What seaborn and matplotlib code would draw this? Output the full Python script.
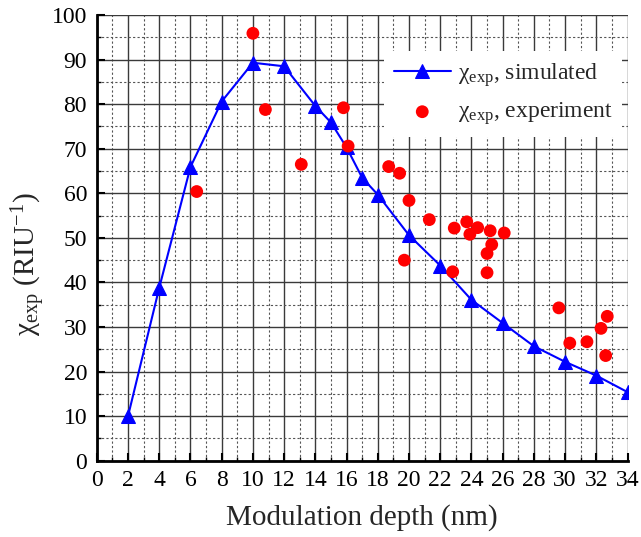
import matplotlib
matplotlib.use('Agg')
import matplotlib.pyplot as plt
from matplotlib.ticker import MultipleLocator
import seaborn as sns
import pandas as pd

# simulated curve
sim_depth = [2, 4, 6, 8, 10, 12, 14, 15, 16, 17, 18, 20, 22, 24, 26, 28, 30, 32, 34]
sim_chi = [10, 38.8, 65.9, 80.6, 89.3, 88.5, 79.6, 75.9, 70.3, 63.5, 59.7, 50.6,
           43.8, 36.1, 30.9, 25.7, 22.2, 19.1, 15.4]

# experimental points
exp_depth = [6.4, 10.0, 10.8, 13.1, 15.8, 16.1, 18.7, 19.4, 20.0, 19.7, 21.3, 22.9,
             22.8, 23.7, 23.9, 24.4, 25.2, 25.3, 25.0, 25.0, 26.1, 29.6, 30.3,
             31.4, 32.3, 32.6, 32.7]
exp_chi = [60.4, 95.9, 78.8, 66.5, 79.2, 70.6, 66.0, 64.5, 58.4, 45.0, 54.1, 52.2,
           42.4, 53.6, 50.8, 52.3, 51.6, 48.5, 46.5, 42.2, 51.1, 34.3, 26.4,
           26.7, 29.7, 23.6, 32.4]

sim = pd.DataFrame({'depth': sim_depth, 'chi': sim_chi})
exp = pd.DataFrame({'depth': exp_depth, 'chi': exp_chi})

sns.set_style('ticks')
plt.rcParams['font.family'] = ['Liberation Serif', 'DejaVu Serif']
# mathtext in the same Times-like face, so chi stays upright
plt.rcParams['mathtext.fontset'] = 'custom'
plt.rcParams['mathtext.rm'] = 'Liberation Serif'
plt.rcParams['mathtext.it'] = 'Liberation Serif'
plt.rcParams['mathtext.bf'] = 'Liberation Serif:bold'

fig = plt.figure(figsize=(6.41, 5.37), dpi=100)
ax = fig.add_axes([0.151, 0.142, 0.828, 0.830])

ax.set_axisbelow(True)
ax.xaxis.set_major_locator(MultipleLocator(2))
ax.xaxis.set_minor_locator(MultipleLocator(1))
ax.yaxis.set_major_locator(MultipleLocator(10))
ax.yaxis.set_minor_locator(MultipleLocator(5))
ax.grid(which='major', color='#3a3a3a', linewidth=1.0, linestyle='-')
ax.grid(which='minor', color='#555555', linewidth=0.8, linestyle=(0, (2, 2)))

sns.lineplot(data=sim, x='depth', y='chi', ax=ax, color='#0000ff', linewidth=1.5,
             marker='^', markersize=10, markeredgecolor='#0000ff',
             label='χ$_{\\mathrm{exp}}$, simulated')
sns.scatterplot(data=exp, x='depth', y='chi', ax=ax, color='#ff0000', s=85,
                edgecolor='none', label='χ$_{\\mathrm{exp}}$, experiment', zorder=3)

ax.set_xlim(0, 34)
ax.set_ylim(0, 100)
ax.set_xlabel('Modulation depth (nm)', fontsize=21, labelpad=9)
ax.set_ylabel('χ$_{\\mathrm{exp}}$ (RIU$^{-1}$)', fontsize=21)
ax.yaxis.set_label_coords(-0.092, 0.44)

ax.tick_params(which='both', direction='in', labelsize=17, colors='black', pad=7)
ax.tick_params(which='major', length=6, width=1.5)
ax.tick_params(which='minor', length=3, width=1.0)
sns.despine(ax=ax, top=True, right=True)
for side in ['left', 'bottom']:
    ax.spines[side].set_linewidth(2)
    ax.spines[side].set_color('black')

leg = ax.legend(loc='upper right', bbox_to_anchor=(1.012, 0.945), fontsize=17,
                frameon=True, facecolor='white', edgecolor='none', framealpha=1,
                fancybox=False, borderpad=0.4, handlelength=2.4, handletextpad=0.3,
                labelspacing=0.5)

fig.savefig('out.png', dpi=100)
